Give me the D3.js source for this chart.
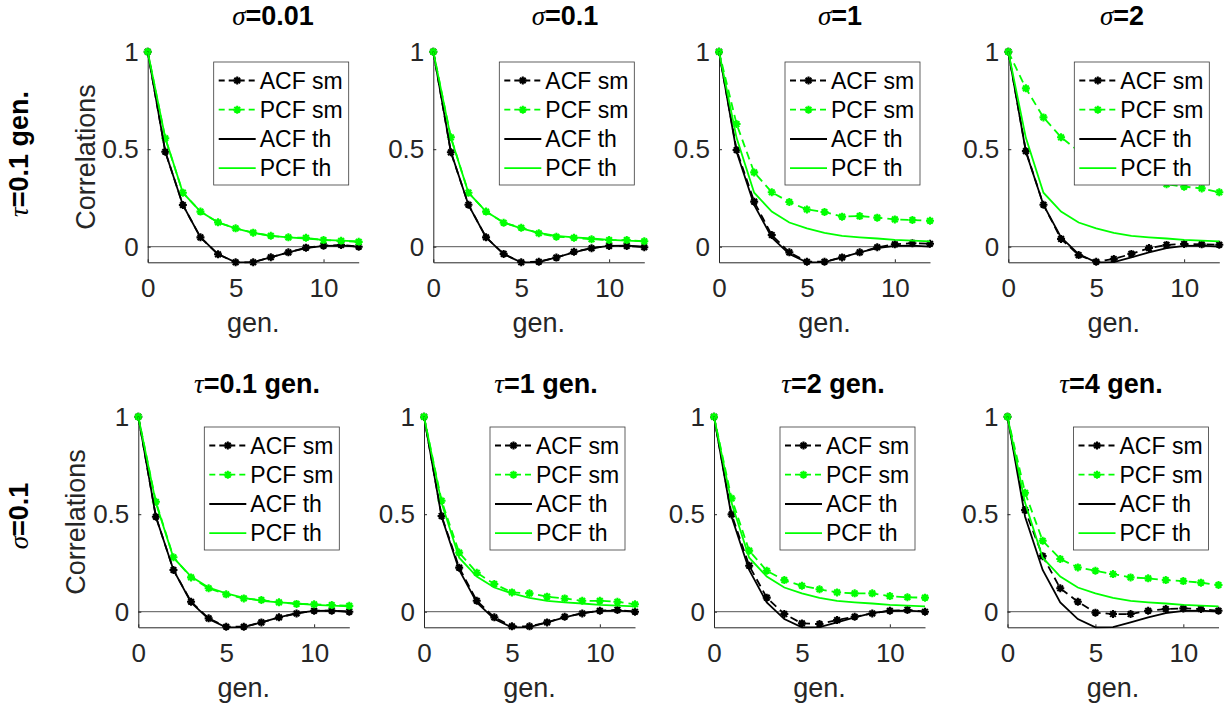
<!DOCTYPE html>
<html>
<head>
<meta charset="utf-8">
<script src="https://cdn.jsdelivr.net/npm/d3@7"></script>
<style>
  html, body { margin: 0; padding: 0; background: #fff; }
  svg { display: block; }
  text { font-family: "Liberation Sans", Arial, Helvetica, sans-serif; fill: #262626; }
</style>
</head>
<body>
<svg id="chart" width="1231" height="707"></svg>
<script>
// ---------------- DATA ----------------
const lags = [0, 1, 2, 3, 4, 5, 6, 7, 8, 9, 10, 11, 12];
const xTicks = [0, 5, 10];
const yTicks = [0, 0.5, 1];
const legendLabels = ["ACF sm", "PCF sm", "ACF th", "PCF th"];

const topTitleSymbol = "σ";
const topTitleValues = ["=0.01", "=0.1", "=1", "=2"];
const bottomTitleSymbol = "τ";
const bottomTitleValues = ["=0.1 gen.", "=1 gen.", "=2 gen.", "=4 gen."];
const rowLabels = [["τ", "=0.1 gen."], ["σ", "=0.1"]];
const yLabel = "Correlations";
const xLabel = "gen.";

// theoretical curves (same in all panels)
const acfTh = [1, 0.487, 0.214, 0.048, -0.038, -0.08, -0.079, -0.055, -0.029, -0.007, 0.004, 0.005, 0.0];
const pcfTh = [1, 0.558, 0.277, 0.18, 0.124, 0.094, 0.071, 0.056, 0.048, 0.042, 0.035, 0.031, 0.027];

// simulated (sm) – top row, tau = 0.1 gen.
const acfSigma001 = [1, 0.487, 0.214, 0.048, -0.039, -0.08, -0.08, -0.054, -0.029, -0.005, 0.005, 0.009, 0.0];
const pcfSigma001 = [1, 0.556, 0.277, 0.18, 0.125, 0.094, 0.072, 0.056, 0.048, 0.046, 0.034, 0.03, 0.025];
const acfSigma01  = [1, 0.484, 0.215, 0.048, -0.037, -0.08, -0.077, -0.056, -0.026, -0.008, 0.004, 0.004, -0.003];
const pcfSigma01  = [1, 0.561, 0.277, 0.18, 0.123, 0.097, 0.069, 0.051, 0.046, 0.038, 0.034, 0.034, 0.028];
const acfSigma1   = [1, 0.496, 0.231, 0.06, -0.029, -0.077, -0.077, -0.055, -0.029, -0.003, 0.012, 0.018, 0.015];
const pcfSigma1   = [1, 0.629, 0.381, 0.279, 0.229, 0.191, 0.178, 0.154, 0.157, 0.149, 0.14, 0.137, 0.133];
const acfSigma2   = [1, 0.49, 0.215, 0.04, -0.043, -0.077, -0.063, -0.037, -0.007, 0.009, 0.014, 0.012, 0.01];
const pcfSigma2   = [1, 0.812, 0.663, 0.561, 0.49, 0.44, 0.40, 0.37, 0.345, 0.32, 0.308, 0.299, 0.279];

// simulated (sm) – bottom row, sigma = 0.1
const acfTau01 = [1, 0.487, 0.214, 0.051, -0.034, -0.077, -0.077, -0.055, -0.029, -0.009, 0.005, 0.005, 0.0];
const pcfTau01 = [1, 0.564, 0.279, 0.176, 0.12, 0.089, 0.068, 0.06, 0.048, 0.04, 0.038, 0.034, 0.03];
const acfTau1  = [1, 0.491, 0.226, 0.056, -0.029, -0.075, -0.075, -0.055, -0.026, -0.009, 0.005, 0.009, 0.0];
const pcfTau1  = [1, 0.569, 0.303, 0.2, 0.142, 0.099, 0.094, 0.077, 0.068, 0.056, 0.056, 0.051, 0.038];
const acfTau2  = [1, 0.499, 0.236, 0.072, -0.012, -0.06, -0.063, -0.043, -0.026, -0.009, 0.005, 0.009, 0.0];
const pcfTau2  = [1, 0.581, 0.313, 0.21, 0.162, 0.133, 0.115, 0.099, 0.094, 0.094, 0.08, 0.074, 0.072];
const acfTau4  = [1, 0.521, 0.285, 0.12, 0.051, -0.005, -0.012, -0.012, 0.005, 0.014, 0.017, 0.014, 0.005];
const pcfTau4  = [1, 0.61, 0.364, 0.27, 0.227, 0.21, 0.193, 0.176, 0.171, 0.162, 0.157, 0.149, 0.137];

const topSm = [[acfSigma001, pcfSigma001], [acfSigma01, pcfSigma01], [acfSigma1, pcfSigma1], [acfSigma2, pcfSigma2]];
const bottomSm = [[acfTau01, pcfTau01], [acfTau1, pcfTau1], [acfTau2, pcfTau2], [acfTau4, pcfTau4]];

// ---------------- LAYOUT ----------------
const plotW = 211;
const rowLefts = [[147.7, 433.3, 719, 1008.3], [138.3, 424, 714, 1007.5]];
const rowTop = [51.7, 416.7];
const rowBottom = [262.3, 627.3];
const titleCenters = [[273, 565, 840, 1122], [257, 546, 833, 1111]];
const titleBaselines = [25, 393];
const GREEN = "#00ff00", BLACK = "#000000", AXIS = "#262626";
const FONT = 26;
const LW = 1.8;

const svg = d3.select("#chart");

function asteriskPath(r) {
  const d = r * 0.7071;
  return `M${-r},0L${r},0M0,${-r}L0,${r}M${-d},${-d}L${d},${d}M${-d},${d}L${d},${-d}`;
}
const markerD = asteriskPath(4);

function drawTitle(sel, x, y, sym, rest, size) {
  const t = sel.append("text").attr("x", x).attr("y", y)
    .attr("text-anchor", "middle").style("font-size", size + "px").style("fill", "#000");
  t.append("tspan").text(sym).style("font-style", "italic").style("font-weight", "normal")
    .style("font-family", "'Liberation Serif', 'DejaVu Serif', serif");
  t.append("tspan").text(rest).style("font-weight", "bold");
  return t;
}

function drawPanel(row, col, sm) {
  const left = rowLefts[row][col];
  const x = d3.scaleLinear().domain([0, 12]).range([left, left + plotW]);
  const y = d3.scaleLinear().domain([-0.08, 1]).range([rowBottom[row], rowTop[row]]);
  const g = svg.append("g");

  // zero reference line
  g.append("line")
    .attr("x1", x(0)).attr("x2", x(12)).attr("y1", y(0)).attr("y2", y(0))
    .attr("stroke", "#555").attr("stroke-width", 1);

  // axes
  const xAxis = d3.axisBottom(x).tickValues(xTicks).tickSizeInner(-3).tickSizeOuter(0).tickPadding(16);
  const yAxis = d3.axisLeft(y).tickValues(yTicks).tickSizeInner(-3).tickSizeOuter(0).tickPadding(9)
    .tickFormat(d => d3.format("")(d));
  const gx = g.append("g").attr("transform", `translate(0,${y(-0.08)})`).call(xAxis);
  const gy = g.append("g").attr("transform", `translate(${x(0)},0)`).call(yAxis);
  [gx, gy].forEach(a => {
    a.select(".domain").attr("stroke", AXIS).attr("stroke-width", 1);
    a.selectAll(".tick line").attr("stroke", AXIS);
    a.selectAll(".tick text").style("font-size", FONT + "px").style("font-family", "'Liberation Sans', Arial, sans-serif").attr("fill", AXIS);
  });

  const line = d3.line().x((d, i) => x(lags[i])).y(d => y(d));

  const series = [
    { data: sm[0], color: BLACK, dash: "8,5", marker: true },
    { data: sm[1], color: GREEN, dash: "8,5", marker: true },
    { data: acfTh, color: BLACK, dash: null, marker: false },
    { data: pcfTh, color: GREEN, dash: null, marker: false }
  ];
  series.forEach(s => {
    g.append("path").attr("d", line(s.data)).attr("fill", "none")
      .attr("stroke", s.color).attr("stroke-width", LW)
      .attr("stroke-dasharray", s.dash);
    if (s.marker) {
      g.selectAll(null).data(s.data).enter().append("path")
        .attr("d", markerD)
        .attr("transform", (d, i) => `translate(${x(lags[i])},${y(d)})`)
        .attr("stroke", s.color).attr("stroke-width", 2.1).attr("fill", "none");
    }
  });

  // legend (northeast)
  const lgW = 135, lgH = 123;
  const lgX = x(12) - 10 - lgW, lgY = y(1) + 10.3;
  const lg = g.append("g").attr("transform", `translate(${lgX},${lgY})`);
  lg.append("rect").attr("width", lgW).attr("height", lgH)
    .attr("fill", "#fff").attr("stroke", "#3a3a3a").attr("stroke-width", 0.8);
  const rowY = [18.5, 47.7, 77, 106.2];
  series.forEach((s, i) => {
    lg.append("line").attr("x1", 5).attr("x2", 42).attr("y1", rowY[i]).attr("y2", rowY[i])
      .attr("stroke", s.color).attr("stroke-width", LW).attr("stroke-dasharray", s.dash ? "6,4" : null);
    if (s.marker) {
      lg.append("path").attr("d", markerD).attr("transform", `translate(23.5,${rowY[i]})`)
        .attr("stroke", s.color).attr("stroke-width", 2.1).attr("fill", "none");
    }
    lg.append("text").attr("x", 46).attr("y", rowY[i] + 8.2).text(legendLabels[i])
      .style("font-size", "23px").style("fill", "#000");
  });

  // x label
  g.append("text").attr("x", (x(0) + x(12)) / 2).attr("y", y(-0.08) + 70)
    .attr("text-anchor", "middle").style("font-size", "27px").text(xLabel);

  // y label on first column
  if (col === 0) {
    const cy = (y(1) + y(-0.08)) / 2;
    g.append("text").attr("transform", `translate(${left - 53},${cy}) rotate(-90)`)
      .attr("text-anchor", "middle").style("font-size", "27px").text(yLabel);
  }
}

topSm.forEach((sm, c) => drawPanel(0, c, sm));
bottomSm.forEach((sm, c) => drawPanel(1, c, sm));

// titles
topTitleValues.forEach((v, c) => drawTitle(svg, titleCenters[0][c], titleBaselines[0], topTitleSymbol, v, 27));
bottomTitleValues.forEach((v, c) => drawTitle(svg, titleCenters[1][c], titleBaselines[1], bottomTitleSymbol, v, 27));

// row labels (rotated)
const rowCenters = [154, 516];
rowLabels.forEach((lab, r) => {
  const t = svg.append("text").attr("transform", `translate(28,${rowCenters[r]}) rotate(-90)`)
    .attr("text-anchor", "middle").style("font-size", "27px").style("fill", "#000");
  t.append("tspan").text(lab[0]).style("font-style", "italic")
    .style("font-family", "'Liberation Serif', 'DejaVu Serif', serif");
  t.append("tspan").text(lab[1]).style("font-weight", "bold");
});
</script>
</body>
</html>
